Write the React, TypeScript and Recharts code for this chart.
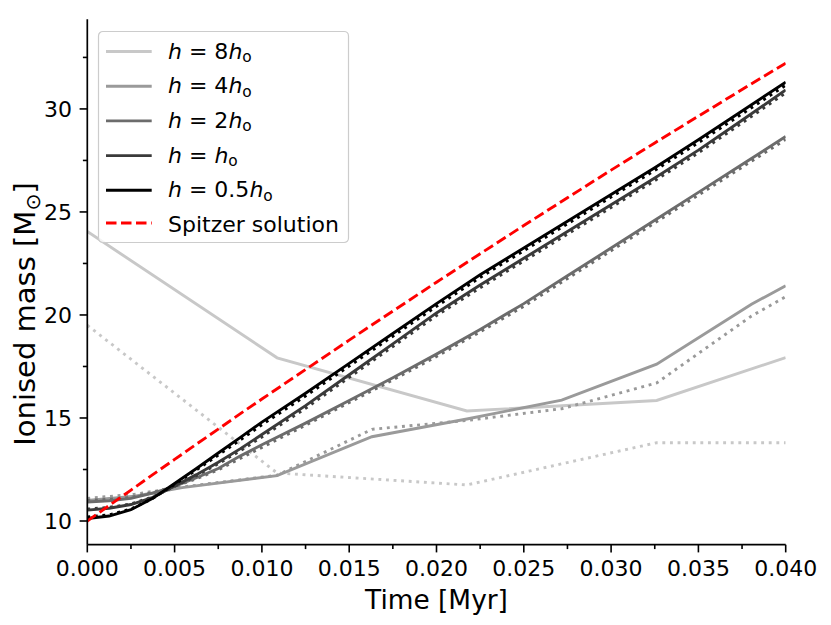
import React from 'react';
import { LineChart, Line, XAxis, YAxis, Legend } from 'recharts';

// ---------- data ----------
const T_FINE = [0, 0.00125, 0.0025, 0.00375, 0.005, 0.00625, 0.0075, 0.00875, 0.01, 0.0125, 0.015, 0.0175, 0.02, 0.0225, 0.025, 0.0275, 0.03, 0.0325, 0.035, 0.0375, 0.04];
const T_MID = [0, 0.00272, 0.00543, 0.01087, 0.0163, 0.02174, 0.02717, 0.03261, 0.03804, 0.04];
const T_COARSE = [0, 0.01087, 0.02174, 0.03261, 0.04];

const SPITZER = [10.0, 10.75, 11.5, 12.25, 12.99, 13.73, 14.46, 15.2, 15.92, 17.35, 18.78, 20.19, 21.59, 22.97, 24.34, 25.69, 27.03, 28.35, 29.65, 30.94, 32.22];

const H05 = [10.12, 10.24, 10.55, 11.1, 11.82, 12.55, 13.3, 14.05, 14.8, 16.2, 17.65, 19.1, 20.55, 21.95, 23.25, 24.55, 25.85, 27.15, 28.5, 29.9, 31.3];
const H05_DOT = [10.2, 10.3, 10.58, 11.1, 11.78, 12.48, 13.2, 13.93, 14.67, 16.07, 17.52, 18.97, 20.42, 21.82, 23.12, 24.42, 25.72, 27.02, 28.36, 29.76, 31.15];

const H1 = [10.53, 10.62, 10.8, 11.15, 11.7, 12.25, 12.85, 13.5, 14.2, 15.6, 17.1, 18.6, 20.1, 21.45, 22.75, 24.05, 25.35, 26.65, 28.0, 29.45, 30.92];
const H1_DOT = [10.58, 10.66, 10.83, 11.17, 11.68, 12.2, 12.78, 13.4, 14.08, 15.47, 16.97, 18.47, 19.97, 21.32, 22.62, 23.92, 25.22, 26.52, 27.87, 29.32, 30.78];

const H2 = [10.92, 10.98, 11.1, 11.35, 11.68, 12.1, 12.55, 13.15, 13.7, 14.75, 15.85, 16.95, 18.1, 19.3, 20.55, 21.9, 23.25, 24.6, 25.95, 27.3, 28.66];
const H2_DOT = [11.0, 11.05, 11.15, 11.38, 11.68, 12.05, 12.48, 13.03, 13.57, 14.65, 15.75, 16.85, 17.98, 19.18, 20.42, 21.77, 23.12, 24.47, 25.82, 27.17, 28.52];

const H4 = [11.0, 11.2, 11.62, 12.2, 14.09, 14.95, 15.87, 17.61, 20.52, 21.42];
const H4_DOT = [11.1, 11.3, 11.65, 12.22, 14.45, 14.88, 15.45, 16.7, 19.95, 20.89];

const H8 = [24.05, 17.92, 15.34, 15.85, 17.93];
const H8_DOT = [19.5, 12.33, 11.75, 13.8, 13.8];

const X_TICKS = [0, 0.0025, 0.005, 0.0075, 0.01, 0.0125, 0.015, 0.0175, 0.02, 0.0225, 0.025, 0.0275, 0.03, 0.0325, 0.035, 0.0375, 0.04];
const Y_TICKS = [10, 12.5, 15, 17.5, 20, 22.5, 25, 27.5, 30, 32.5];

const LEGEND_COEFFS = ['8', '4', '2', '', '0.5'];
const SPITZER_LABEL = 'Spitzer solution';
const X_LABEL = 'Time [Myr]';
const Y_LABEL = 'Ionised mass [M';

// ---------- styling ----------
const FONT = 'DejaVu Sans';
const GRAYS = ['#c8c8c8', '#9a9a9a', '#6c6c6c', '#3a3a3a', '#000000'];
const RED = '#ff0000';
const LW = 2.9;
const DOT_DASH = '2.9 4.7';
const RED_DASH = '10.5 4.5';
const MAJ = 7.7;
const MIN = 4.4;
const TW = 1.6;

const toPts = (t: number[], v: number[]) => t.map((tt, i) => ({ t: tt, v: v[i] }));

const SERIES = [
  { times: T_COARSE, solid: H8, dotted: H8_DOT },
  { times: T_MID, solid: H4, dotted: H4_DOT },
  { times: T_FINE, solid: H2, dotted: H2_DOT },
  { times: T_FINE, solid: H1, dotted: H1_DOT },
  { times: T_FINE, solid: H05, dotted: H05_DOT },
];

const isMajor = (v: number, step: number) => Math.abs(v / step - Math.round(v / step)) < 1e-6;

const BottomTick = (p: any) => {
  const { x, y, payload } = p;
  const major = isMajor(payload.value, 0.005);
  return (
    <g>
      <line x1={x} x2={x} y1={y} y2={y + (major ? MAJ : MIN)} stroke="#000" strokeWidth={TW} />
      {major && (
        <text x={x} y={y + 31} textAnchor="middle" fontFamily={FONT} fontSize={22} fill="#000">
          {Number(payload.value).toFixed(3)}
        </text>
      )}
    </g>
  );
};

const TopTick = (p: any) => {
  const { x, y, payload } = p;
  const major = isMajor(payload.value, 0.005);
  return <line x1={x} x2={x} y1={y} y2={y - (major ? MAJ : MIN)} stroke="#000" strokeWidth={TW} />;
};

const LeftTick = (p: any) => {
  const { x, y, payload } = p;
  const major = isMajor(payload.value, 5);
  return (
    <g>
      <line x1={x} x2={x - (major ? MAJ : MIN)} y1={y} y2={y} stroke="#000" strokeWidth={TW} />
      {major && (
        <text x={x - 15.4} y={y + 8} textAnchor="end" fontFamily={FONT} fontSize={22} fill="#000">
          {String(payload.value)}
        </text>
      )}
    </g>
  );
};

const RightTick = (p: any) => {
  const { x, y, payload } = p;
  const major = isMajor(payload.value, 5);
  return <line x1={x} x2={x + (major ? MAJ : MIN)} y1={y} y2={y} stroke="#000" strokeWidth={TW} />;
};

const renderXLabel = (p: any) => {
  const vb = p.viewBox || {};
  const cx = (vb.x ?? 87.3) + (vb.width ?? 698.4) / 2;
  return (
    <text x={cx} y={609} textAnchor="middle" fontFamily={FONT} fontSize={26.4} fill="#000">
      {X_LABEL}
    </text>
  );
};

const renderYLabel = () => {
  const bx = 35;
  const cy = 314;
  return (
    <text x={0} y={0} transform={`translate(${bx},${cy}) rotate(-90)`} textAnchor="middle" fontFamily={FONT} fontSize={29} fill="#000">
      <tspan>{Y_LABEL}</tspan>
      <tspan fontSize={20.3} dy={4.5}>⊙</tspan>
      <tspan dy={-4.5}>]</tspan>
    </text>
  );
};

const ROW_Y = [20.5, 55.2, 89.9, 124.6, 159.3, 192];

const LegendBox = () => (
  <svg width={252} height={213} style={{ display: 'block', overflow: 'visible' }}>
    <rect x={0.5} y={0.5} width={250} height={211} rx={4.4} ry={4.4} fill="#ffffff" fillOpacity={0.8} stroke="#cccccc" strokeWidth={1.2} />
    {LEGEND_COEFFS.map((c, i) => (
      <g key={i}>
        <line x1={8} x2={53.7} y1={ROW_Y[i]} y2={ROW_Y[i]} stroke={GRAYS[i]} strokeWidth={LW} />
        <text x={70} y={ROW_Y[i] + 7} fontFamily={FONT} fontSize={22} fill="#000">
          <tspan fontStyle="italic">h</tspan>
          <tspan>{` = ${c}`}</tspan>
          <tspan fontStyle="italic">h</tspan>
          <tspan fontSize={15.4} dy={3.5}>o</tspan>
        </text>
      </g>
    ))}
    <line x1={8} x2={53.7} y1={ROW_Y[5]} y2={ROW_Y[5]} stroke={RED} strokeWidth={LW} strokeDasharray={RED_DASH} />
    <text x={70} y={ROW_Y[5] + 8.5} fontFamily={FONT} fontSize={22} fill="#000">
      {SPITZER_LABEL}
    </text>
  </svg>
);

const axisLineStyle = { stroke: '#000', strokeWidth: 1.7 };

export default function App() {
  return (
    <div style={{ position: 'absolute', left: 0, top: 0, width: 831, height: 625, background: '#fff' }}>
      <LineChart width={831} height={625} margin={{ top: 19.3, right: 45.3, bottom: 20.3, left: 27.3 }}>
        <XAxis
          dataKey="t"
          type="number"
          domain={[0, 0.04]}
          allowDataOverflow
          ticks={X_TICKS}
          interval={0}
          tickSize={0}
          tickMargin={0}
          tick={BottomTick}
          axisLine={axisLineStyle}
          height={60}
          label={renderXLabel}
        />
        <XAxis
          xAxisId="top"
          orientation="top"
          dataKey="t"
          type="number"
          domain={[0, 0.04]}
          allowDataOverflow
          ticks={X_TICKS}
          interval={0}
          tickSize={0}
          tickMargin={0}
          tick={TopTick}
          axisLine={axisLineStyle}
          height={0}
        />
        <YAxis
          type="number"
          domain={[8.85, 34.35]}
          allowDataOverflow
          ticks={Y_TICKS}
          interval={0}
          tickSize={0}
          tickMargin={0}
          tick={LeftTick}
          axisLine={axisLineStyle}
          width={60}
          label={renderYLabel}
        />
        <YAxis
          yAxisId="right"
          orientation="right"
          type="number"
          domain={[8.85, 34.35]}
          allowDataOverflow
          ticks={Y_TICKS}
          interval={0}
          tickSize={0}
          tickMargin={0}
          tick={RightTick}
          axisLine={axisLineStyle}
          width={0}
        />
        {SERIES.flatMap((s, i) => [
          <Line
            key={`s${i}`}
            data={toPts(s.times, s.solid)}
            dataKey="v"
            type="linear"
            stroke={GRAYS[i]}
            strokeWidth={LW}
            dot={false}
            activeDot={false}
            isAnimationActive={false}
          />,
          <Line
            key={`d${i}`}
            data={toPts(s.times, s.dotted)}
            dataKey="v"
            type="linear"
            stroke={GRAYS[i]}
            strokeWidth={LW}
            strokeDasharray={DOT_DASH}
            dot={false}
            activeDot={false}
            isAnimationActive={false}
          />,
        ])}
        <Line
          data={toPts(T_FINE, SPITZER)}
          dataKey="v"
          type="linear"
          stroke={RED}
          strokeWidth={LW}
          strokeDasharray={RED_DASH}
          dot={false}
          activeDot={false}
          isAnimationActive={false}
        />
        <Legend
          layout="vertical"
          align="center"
          verticalAlign="middle"
          content={() => <LegendBox />}
          wrapperStyle={{ position: 'absolute', left: 98, top: 30.5, width: 252, height: 213, margin: 0, padding: 0 }}
        />
      </LineChart>
    </div>
  );
}
